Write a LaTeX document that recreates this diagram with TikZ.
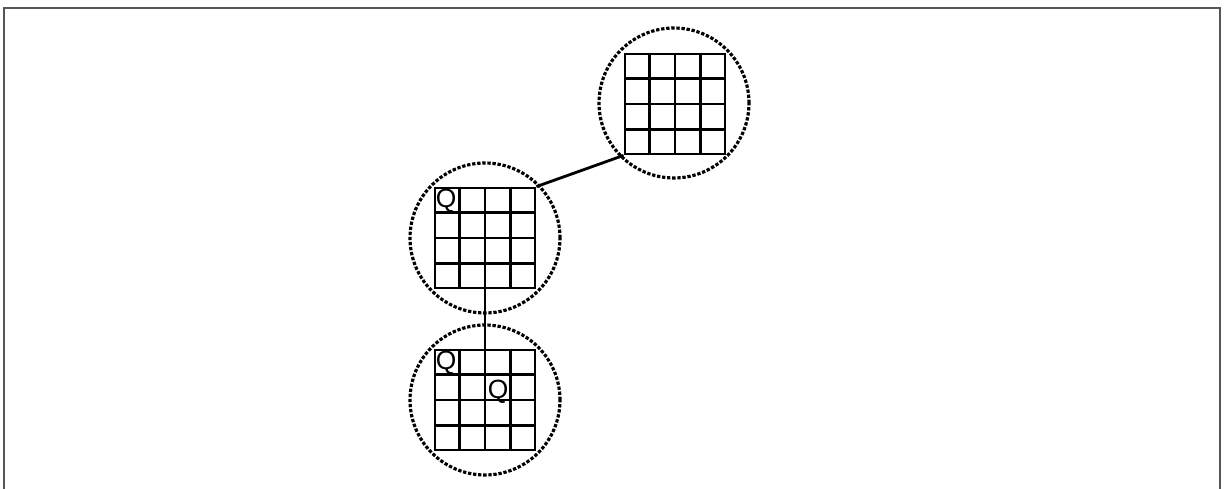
\documentclass[tikz,border=0pt]{standalone}
\usepackage{fontspec}
\setmainfont{Liberation Sans}
\usetikzlibrary{calc}
\definecolor{framegray}{RGB}{85,85,85}

\tikzset{
  ring/.style={circle, draw, minimum size=3cm, line width=1.8pt, dash pattern=on 1.9pt off 1pt},
  board/.style={rectangle, draw, minimum size=2cm, inner sep=0pt, line width=1.6pt},
  queen/.style={anchor=north west, inner sep=0.5pt, font=\fontsize{15}{15}\selectfont}
}

\begin{document}
\begin{tikzpicture}[x=0.02cm, y=-0.02cm]
  \useasboundingbox (0,0) rectangle (1225,489);
  \draw[framegray, line width=1pt] (4,489) -- (4,8) -- (1220,8) -- (1220,489);

  % three boards, each inside a dotted ring
  \node[ring] (ringtop) at (674,103) {};
  \node[ring] (ringmid) at (485,238) {};
  \node[ring] (ringbot) at (485,400) {};
  \node[board] (gridtop) at (675,104) {};
  \node[board] (gridmid) at (485,238) {};
  \node[board] (gridbot) at (485,400) {};

  \foreach \g in {gridtop,gridmid,gridbot}{
    \foreach \i in {1,2,3}{
      \draw[line width=1.6pt] ($(\g.north west)!\i/4!(\g.north east)$) -- ($(\g.south west)!\i/4!(\g.south east)$);
      \draw[line width=1.6pt] ($(\g.north west)!\i/4!(\g.south west)$) -- ($(\g.north east)!\i/4!(\g.south east)$);
    }
  }

  % queens
  \node[queen] (qmid) at ([shift={(1,1)}]gridmid.north west) {Q};
  \node[queen] (qbota) at ([shift={(1,1)}]gridbot.north west) {Q};
  \node[queen] (qbotb) at ([shift={(53,30)}]gridbot.north west) {Q};

  % links between the boards
  \draw[line width=1.6pt] (gridmid.north east) -- (gridtop.south west);
  \draw[line width=1.6pt] (gridmid.south) -- (gridbot.north);
\end{tikzpicture}
\end{document}
